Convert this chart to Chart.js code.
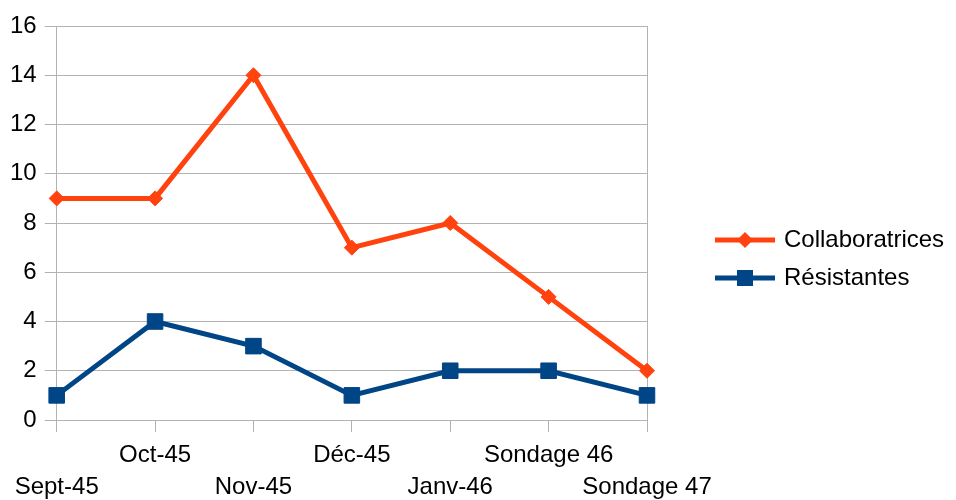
<!DOCTYPE html>
<html>
<head>
<meta charset="utf-8">
<script src="https://cdn.jsdelivr.net/npm/chart.js@4/dist/chart.umd.min.js"></script>
<style>
    html, body { margin: 0; padding: 0; background: #fff; }
    #wrap { width: 956px; height: 500px; position: relative; }
</style>
</head>
<body>
<div id="wrap"><canvas id="lineChart"></canvas></div>
<script>
const categories = ['Sept-45', 'Oct-45', 'Nov-45', 'Déc-45', 'Janv-46', 'Sondage 46', 'Sondage 47'];
const collaboratrices = [9, 9, 14, 7, 8, 5, 2];
const resistantes = [1, 4, 3, 1, 2, 2, 1];
const yTicks = [0, 2, 4, 6, 8, 10, 12, 14, 16];

const ORANGE = '#ff420e';
const BLUE = '#004586';
const GRID = '#b3b3b3';
const FAMILY = '"Liberation Sans", Arial, sans-serif';
const FONT = { family: FAMILY, size: 24, lineHeight: 1.25 };
const XFONT = { family: FAMILY, size: 24, lineHeight: 1.35 };

// legend drawn by hand: line + marker, then the series name
const lineLegend = {
    id: 'lineLegend',
    afterDraw(chart) {
        const g = chart.ctx;
        const x0 = chart.chartArea.right + 68;
        const yMid = chart.height / 2 + 9;
        g.save();
        chart.data.datasets.forEach((ds, i) => {
            const y = yMid + (i - 0.5) * 38;
            g.strokeStyle = ds.borderColor;
            g.fillStyle = ds.borderColor;
            g.lineWidth = 5;
            g.beginPath();
            g.moveTo(x0, y);
            g.lineTo(x0 + 60, y);
            g.stroke();
            g.beginPath();
            if (ds.pointStyle === 'rectRot') {
                g.moveTo(x0 + 30, y - 8); g.lineTo(x0 + 38, y);
                g.lineTo(x0 + 30, y + 8); g.lineTo(x0 + 22, y);
                g.closePath();
            } else {
                g.rect(x0 + 22, y - 8, 16, 16);
            }
            g.fill();
            g.fillStyle = '#000';
            g.font = FONT.size + 'px ' + FONT.family;
            g.textBaseline = 'middle';
            g.textAlign = 'left';
            g.fillText(ds.label, x0 + 69, y);
        });
        g.restore();
    }
};

document.addEventListener('DOMContentLoaded', function () {
    const ctx = document.getElementById('lineChart').getContext('2d');
    new Chart(ctx, {
        type: 'line',
        data: {
            labels: categories,
            datasets: [
                {
                    label: 'Collaboratrices',
                    data: collaboratrices,
                    borderColor: ORANGE,
                    backgroundColor: ORANGE,
                    borderWidth: 5,
                    pointStyle: 'rectRot',
                    pointRadius: 7.5,
                    pointBorderWidth: 1,
                    tension: 0
                },
                {
                    label: 'Résistantes',
                    data: resistantes,
                    borderColor: BLUE,
                    backgroundColor: BLUE,
                    borderWidth: 5,
                    pointStyle: 'rect',
                    pointRadius: 11,
                    pointBorderWidth: 1,
                    tension: 0
                }
            ]
        },
        options: {
            responsive: true,
            maintainAspectRatio: false,
            animation: false,
            events: [],
            layout: { padding: { top: 26, left: 2, right: 0, bottom: 0 } },
            scales: {
                x: {
                    offset: false,
                    grid: { drawOnChartArea: false, color: GRID, tickColor: GRID, tickLength: 12 },
                    border: { display: false },
                    ticks: {
                        autoSkip: false,
                        maxRotation: 0,
                        minRotation: 0,
                        padding: 7,
                        color: '#000',
                        font: XFONT,
                        callback: function (value, index) {
                            const l = this.getLabelForValue(value);
                            return index % 2 ? [l] : ['', l];
                        }
                    },
                    afterFit: function (scale) {
                        scale.height = 80;
                    }
                },
                y: {
                    min: 0,
                    max: 16,
                    afterBuildTicks: function (scale) {
                        scale.ticks = yTicks.map(v => ({ value: v }));
                    },
                    grid: { color: GRID, tickLength: 12 },
                    border: { color: GRID },
                    ticks: { padding: 8, color: '#000', font: FONT }
                },
                yRight: {
                    position: 'right',
                    min: 0,
                    max: 16,
                    grid: { drawOnChartArea: false, drawTicks: false },
                    border: { color: GRID },
                    ticks: { display: false },
                    afterFit: function (scale) {
                        scale.width = 309;
                    }
                }
            },
            plugins: {
                tooltip: { enabled: false },
                legend: { display: false }
            }
        },
        plugins: [lineLegend]
    });
});
</script>
</body>
</html>
